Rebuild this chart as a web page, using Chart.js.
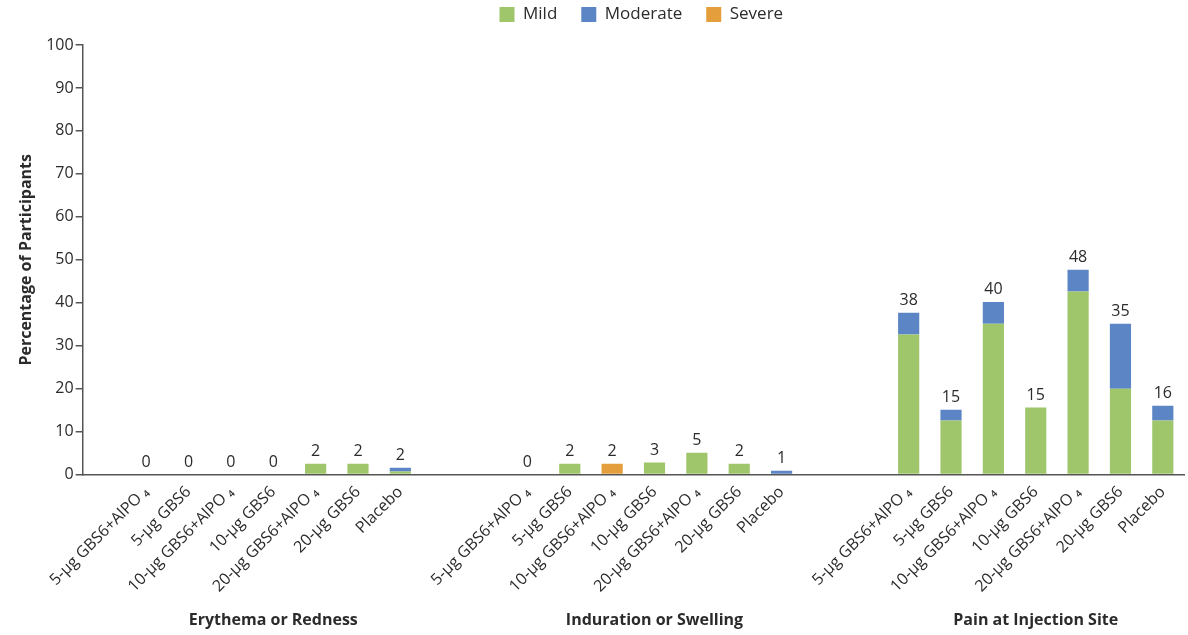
<!DOCTYPE html>
<html>
<head>
<meta charset="utf-8">
<script src="https://cdn.jsdelivr.net/npm/chart.js@4.4.1/dist/chart.umd.min.js"></script>
<style>
  html,body{margin:0;padding:0;background:#fff;}
  #wrap{width:1188px;height:635px;position:relative;}
</style>
</head>
<body>
<div id="wrap"><canvas id="c"></canvas></div>
<script>
const doses=['5-µg GBS6+AlPO ₄','5-µg GBS6','10-µg GBS6+AlPO ₄','10-µg GBS6','20-µg GBS6+AlPO ₄','20-µg GBS6','Placebo'];
const groups=['Erythema or Redness','Induration or Swelling','Pain at Injection Site'];

const mildErythema=[0,0,0,0,2.5,2.5,0.7];
const moderateErythema=[0,0,0,0,0,0,0.9];
const severeErythema=[0,0,0,0,0,0,0];
const totalErythema=['0','0','0','0','2','2','2'];

const mildInduration=[0,2.5,0,2.8,5.1,2.5,0];
const moderateInduration=[0,0,0,0,0,0,0.9];
const severeInduration=[0,0,2.5,0,0,0,0];
const totalInduration=['0','2','2','3','5','2','1'];

const mildPain=[32.6,12.6,35.1,15.6,42.6,20,12.6];
const moderatePain=[5.1,2.5,5.1,0,5.1,15.1,3.4];
const severePain=[0,0,0,0,0,0,0];
const totalPain=['38','15','40','15','48','35','16'];

const yTicks=[0,10,20,30,40,50,60,70,80,90,100];

const COL={mild:'#9fc66b',moderate:'#5b85c4',severe:'#e49e3b',ink:'#2b2b2b',axis:'#555'};
const FONT='"Open Sans", "Noto Sans", sans-serif';

// build flat category axis with spacer slots between groups
const gap=[null,null];
const labels=['',...doses,'','',...doses,'','',...doses];
const join=(a,b,c)=>[null,...a,...gap,...b,...gap,...c];
const mild=join(mildErythema,mildInduration,mildPain);
const moderate=join(moderateErythema,moderateInduration,moderatePain);
const severe=join(severeErythema,severeInduration,severePain);
const totals=join(totalErythema,totalInduration,totalPain);
const groupMid=[4,13,22];

// centre the legend over the plot area and lift it a little
const legendPlace={
  id:'legendPlace',
  afterLayout(chart){
    const lg=chart.legend, ca=chart.chartArea;
    lg.left=ca.left+8; lg.right=ca.right+8; lg.width=ca.right-ca.left;
    lg.top-=12; lg.bottom-=12;
  }
};

const overlay={
  id:'overlay',
  afterDatasetsDraw(chart){
    const {ctx,scales:{x,y}}=chart;
    ctx.save();
    ctx.fillStyle=COL.ink;
    ctx.font='16px '+FONT;
    ctx.textAlign='center';
    ctx.textBaseline='bottom';
    totals.forEach((t,i)=>{
      if(t===null) return;
      const sum=(mild[i]||0)+(moderate[i]||0)+(severe[i]||0);
      ctx.fillText(t,x.getPixelForValue(i),y.getPixelForValue(sum)-4);
    });
    ctx.font='bold 16px '+FONT;
    ctx.textBaseline='middle';
    groups.forEach((g,k)=>ctx.fillText(g,x.getPixelForValue(groupMid[k]),620));
    ctx.restore();
  }
};

new Chart(document.getElementById('c'),{
  type:'bar',
  data:{labels,datasets:[
    {label:'Mild',data:mild,backgroundColor:COL.mild},
    {label:'Moderate',data:moderate,backgroundColor:COL.moderate},
    {label:'Severe',data:severe,backgroundColor:COL.severe}
  ]},
  options:{
    responsive:true,maintainAspectRatio:false,animation:false,
    layout:{padding:{left:13,right:4,top:-6,bottom:39}},
    datasets:{bar:{barPercentage:0.5,categoryPercentage:1}},
    plugins:{
      legend:{position:'top',labels:{boxWidth:15,boxHeight:15,padding:24,color:COL.ink,font:{family:FONT,size:17}}},
      tooltip:{enabled:false}
    },
    scales:{
      x:{stacked:true,
        grid:{display:false},
        border:{display:true,color:COL.axis,width:1.5},
        ticks:{autoSkip:false,maxRotation:45,minRotation:45,padding:0,color:COL.ink,font:{family:FONT,size:16}}},
      y:{stacked:true,min:0,max:100,
        afterBuildTicks:s=>{s.ticks=yTicks.map(v=>({value:v}));},
        grid:{drawOnChartArea:false,drawTicks:true,tickLength:7,color:COL.axis,lineWidth:1.5},
        border:{display:true,color:COL.axis,width:1.5},
        ticks:{padding:2,color:COL.ink,font:{family:FONT,size:16}},
        title:{display:true,text:'Percentage of Participants',color:COL.ink,font:{family:FONT,size:16,weight:'bold'},padding:{bottom:8}}}
    }
  },
  plugins:[legendPlace,overlay]
});
</script>
</body>
</html>
